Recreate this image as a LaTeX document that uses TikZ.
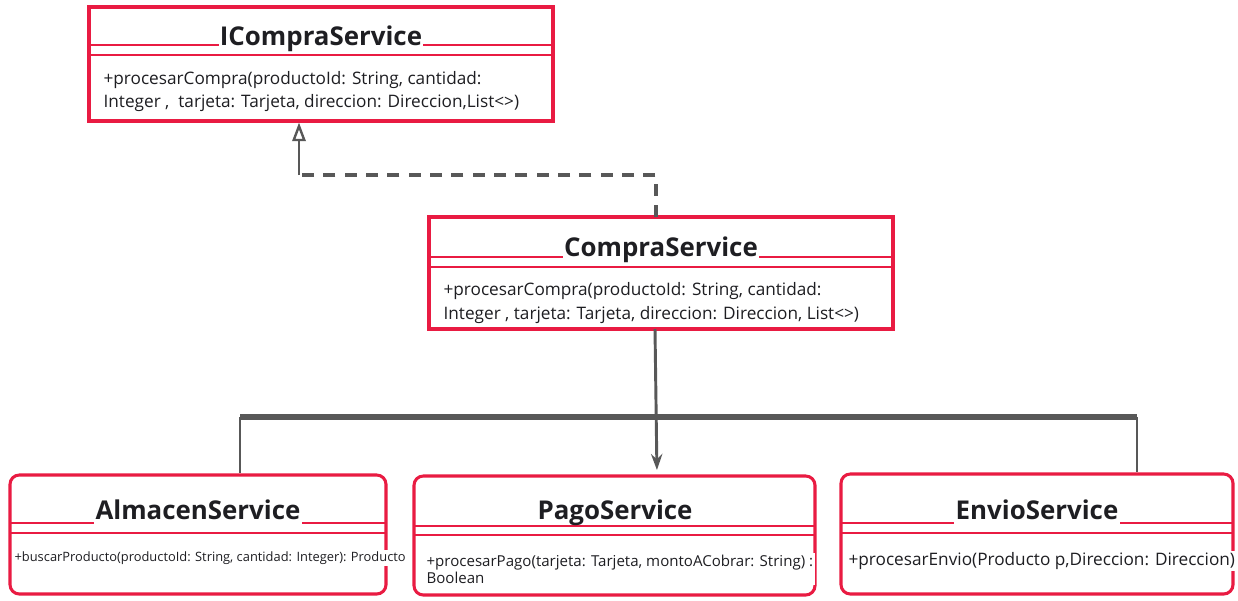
\documentclass[tikz,border=0pt]{standalone}
\usepackage{fontspec}
\setmainfont{Open Sans}
\usetikzlibrary{arrows.meta,fit,calc}
\definecolor{umlred}{RGB}{233,27,66}
\definecolor{conn}{RGB}{88,88,88}
\definecolor{txt}{RGB}{30,30,34}
\tikzset{
  x=0.75pt, y=-0.75pt,
  classbox/.style={draw=umlred, line width=2.3pt, inner sep=0pt, fill=none},
  roundbox/.style={classbox, rounded corners=7pt},
  sepline/.style={draw=umlred, line width=1.5pt},
  title/.style={anchor=base, fill=white, inner sep=1pt, text depth=5pt, text=txt, font=\fontsize{19.4}{22}\selectfont\bfseries},
  body/.style={anchor=west, align=left, text=txt, inner sep=1pt, fill=white},
  conline/.style={draw=conn, line width=2.2pt},
}
\begin{document}
\begin{tikzpicture}
\useasboundingbox (0,0) rectangle (1238,600);
\fill[white] (0,0) rectangle (1238,600);

% ICompraService
\node[classbox, fit={(89,7) (553,121)}] (icompra) {};
\draw[sepline] (91,45) -- (551,45);
\draw[sepline] (91,55) -- (551,55);
\node[title] (icompraT) at (321,45) {ICompraService};
\node[body, font=\fontsize{12.9}{17.3}\selectfont] (icompraB) at (102,91.5)
  {+procesarCompra(productoId: String, cantidad:\\Integer ,\ \ tarjeta: Tarjeta, direccion: Direccion,List<>)};

% CompraService
\node[classbox, fit={(429,217) (893,329)}] (compra) {};
\draw[sepline] (431,257) -- (891,257);
\draw[sepline] (431,267) -- (891,267);
\node[title] (compraT) at (661,256) {CompraService};
\node[body, font=\fontsize{12.9}{17.3}\selectfont] (compraB) at (442,303)
  {+procesarCompra(productoId: String, cantidad:\\Integer , tarjeta: Tarjeta, direccion: Direccion, List<>)};

% AlmacenService
\node[roundbox, fit={(10,475) (386,594)}] (almacen) {};
\draw[sepline] (11,523) -- (385,523);
\draw[sepline] (11,533) -- (385,533);
\node[title] (almacenT) at (198,519) {AlmacenService};
\node[body, font=\fontsize{9.65}{11}\selectfont] (almacenB) at (13,558)
  {+buscarProducto(productoId: String, cantidad: Integer): Producto};

% PagoService
\node[roundbox, fit={(414,476) (815,595)}] (pago) {};
\draw[sepline] (415,526) -- (814,526);
\draw[sepline] (415,535) -- (814,535);
\node[title, fill=none, text depth=0pt] (pagoT) at (615,519) {PagoService};
\node[body, font=\fontsize{11.3}{12.8}\selectfont] (pagoB) at (425,569)
  {+procesarPago(tarjeta: Tarjeta, montoACobrar: String) :\\Boolean};

% EnvioService
\node[roundbox, fit={(841,474) (1233,594)}] (envio) {};
\draw[sepline] (842,523) -- (1232,523);
\draw[sepline] (842,533) -- (1232,533);
\node[title] (envioT) at (1037,519) {EnvioService};
\node[body, font=\fontsize{12.9}{14}\selectfont] (envioB) at (847,561)
  {+procesarEnvio(Producto p,Direccion: Direccion)};

% realization (dashed)
\coordinate (dtop) at (656,217);
\coordinate (dbend) at (299,175);
\draw[conline, line width=2.6pt, dash pattern=on 9pt off 7pt] (dtop) |- (dbend);
\draw[conline, -{Triangle[open, length=14pt, width=10pt, line width=1.8pt]}]
  (dbend) -- (icompra.south -| dbend);

% association
\coordinate (barL) at (240,417);
\coordinate (barR) at (1137,417);
\coordinate (cbot) at (655,329);
\coordinate (ptop) at (657,476);
\draw[conline, -{Stealth[length=12pt, width=8.5pt, inset=4pt]}, shorten >=4.5pt] (cbot) -- (ptop);
\draw[conline, line width=4pt] (barL) -- (barR);
\draw[conline] (barL) -- (almacen.north -| barL);
\draw[conline] (barR) -- (envio.north -| barR);
\end{tikzpicture}
\end{document}
